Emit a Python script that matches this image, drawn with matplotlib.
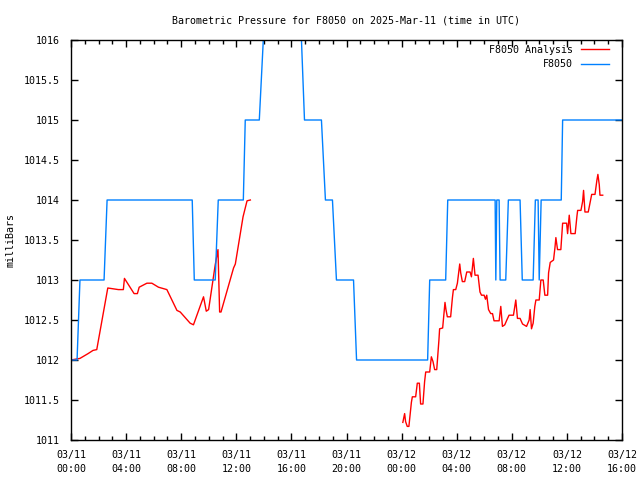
import numpy as np
import pandas as pd
import matplotlib
matplotlib.use("Agg")
import matplotlib.pyplot as plt
import matplotlib.dates as mdates
from matplotlib.ticker import MultipleLocator

start = pd.Timestamp("2025-03-11 00:00")

# F8050 station pressure (hours after 03/11 00:00 UTC, mbar)
obs_hours = [0.0, 0.44, 0.65, 2.40, 2.62, 8.80, 8.95, 10.47, 10.69, 12.51, 12.65,
             13.67, 13.96, 14.25, 16.44, 16.73, 16.95, 18.18, 18.47, 18.98, 19.27,
             20.51, 20.73, 25.89, 26.04, 27.20, 27.35, 30.79, 30.84, 30.91, 31.08,
             31.15, 31.56, 31.75, 32.60, 32.76, 33.55, 33.71, 33.91, 33.99, 34.13,
             35.59, 35.69, 40.0]
obs_mb = [1012, 1012, 1013, 1013, 1014, 1014, 1013, 1013, 1014, 1014, 1015,
          1015, 1016, 1017, 1017, 1016, 1015, 1015, 1014, 1014, 1013,
          1013, 1012, 1012, 1013, 1013, 1014, 1014, 1013, 1014, 1014,
          1013, 1013, 1014, 1014, 1013, 1013, 1014, 1014, 1013, 1014,
          1014, 1015, 1015]

# F8050 analysis, first run
ana1_hours = [0.0, 0.65, 1.24, 1.6, 1.87, 2.67, 3.44, 3.80, 3.88, 4.58, 4.82, 4.95,
              5.51, 5.87, 6.35, 6.96, 7.69, 7.93, 8.65, 8.89, 9.62, 9.82, 9.99,
              10.47, 10.67, 10.79, 10.89, 11.80, 11.93, 12.49, 12.78, 13.02]
ana1_mb = [1012.0, 1012.02, 1012.08, 1012.12, 1012.13, 1012.9, 1012.88, 1012.88,
           1013.02, 1012.83, 1012.83, 1012.91, 1012.96, 1012.96, 1012.91, 1012.88,
           1012.62, 1012.6, 1012.46, 1012.44, 1012.79, 1012.61, 1012.63, 1013.19,
           1013.38, 1012.6, 1012.6, 1013.15, 1013.2, 1013.79, 1013.99, 1014.0]

# F8050 analysis, second run
ana2_hours = [24.09, 24.22, 24.29, 24.41, 24.53, 24.71, 24.78, 25.02, 25.14, 25.29,
              25.38, 25.55, 25.67, 25.75, 26.04, 26.16, 26.28, 26.40, 26.55, 26.71,
              26.76, 26.98, 27.15, 27.22, 27.32, 27.56, 27.69, 27.76, 27.93, 28.05,
              28.22, 28.29, 28.41, 28.58, 28.73, 28.97, 29.07, 29.21, 29.33, 29.55,
              29.69, 29.80, 29.99, 30.09, 30.18, 30.31, 30.47, 30.60, 30.71, 31.08,
              31.20, 31.32, 31.49, 31.64, 31.80, 32.12, 32.29, 32.41, 32.60, 32.78,
              33.07, 33.26, 33.33, 33.43, 33.55, 33.67, 33.75, 33.99, 34.11, 34.28,
              34.40, 34.60, 34.67, 34.79, 35.03, 35.13, 35.20, 35.32, 35.56, 35.69,
              35.98, 36.05, 36.17, 36.29, 36.60, 36.73, 36.78, 37.02, 37.14, 37.21,
              37.31, 37.55, 37.70, 37.80, 38.04, 38.18, 38.25, 38.35, 38.40, 38.60]
ana2_mb = [1011.22, 1011.33, 1011.23, 1011.17, 1011.17, 1011.47, 1011.54, 1011.54,
           1011.71, 1011.71, 1011.45, 1011.45, 1011.73, 1011.85, 1011.85, 1012.04,
           1011.98, 1011.88, 1011.88, 1012.25, 1012.39, 1012.4, 1012.72, 1012.63,
           1012.54, 1012.54, 1012.78, 1012.88, 1012.88, 1012.96, 1013.2, 1013.09,
           1012.98, 1012.98, 1013.1, 1013.1, 1013.04, 1013.27, 1013.06, 1013.06,
           1012.85, 1012.81, 1012.81, 1012.76, 1012.81, 1012.63, 1012.58, 1012.58,
           1012.49, 1012.49, 1012.67, 1012.42, 1012.44, 1012.5, 1012.56, 1012.56,
           1012.75, 1012.52, 1012.52, 1012.45, 1012.42, 1012.5, 1012.63, 1012.39,
           1012.46, 1012.67, 1012.75, 1012.75, 1013.0, 1013.0, 1012.81, 1012.81,
           1013.09, 1013.22, 1013.25, 1013.4, 1013.53, 1013.38, 1013.38, 1013.71,
           1013.71, 1013.58, 1013.81, 1013.58, 1013.58, 1013.8, 1013.87, 1013.87,
           1013.98, 1014.12, 1013.85, 1013.85, 1013.98, 1014.07, 1014.07, 1014.25,
           1014.32, 1014.19, 1014.06, 1014.06]


def to_time(hours):
    return start + pd.to_timedelta(np.asarray(hours, dtype=float), unit="h")


# gap between the two analysis runs
ana_t = list(to_time(ana1_hours)) + [to_time([13.5])[0]] + list(to_time(ana2_hours))
ana_v = ana1_mb + [np.nan] + ana2_mb

plt.rcParams['font.family'] = 'DejaVu Sans Mono'
plt.rcParams['font.size'] = 7.2

fig = plt.figure(figsize=(6.4, 4.8), dpi=100)
ax = fig.add_axes([71 / 640, 1 - 440 / 480, 551 / 640, 400 / 480])

ax.plot(ana_t, ana_v, color='#ff0000', lw=1, label='F8050 Analysis')
ax.plot(to_time(obs_hours), obs_mb, color='#0080ff', lw=1, label='F8050')

ax.set_xlim(start, start + pd.Timedelta(hours=40))
ax.set_ylim(1011, 1016)
ax.yaxis.set_major_locator(MultipleLocator(0.5))
ax.yaxis.set_major_formatter(plt.FuncFormatter(lambda v, p: f"{v:g}"))
ax.xaxis.set_major_locator(mdates.HourLocator(byhour=[0, 4, 8, 12, 16, 20]))
ax.xaxis.set_minor_locator(mdates.HourLocator())
ax.xaxis.set_major_formatter(mdates.DateFormatter("%m/%d\n%H:%M"))
for lbl in ax.get_xticklabels():
    lbl.set_linespacing(1.5)

ax.tick_params(which='both', direction='in', top=True, right=True, width=1)
ax.tick_params(which='major', length=5, pad=7)
ax.tick_params(axis='y', pad=8)
ax.tick_params(which='minor', length=3)
for s in ax.spines.values():
    s.set_linewidth(1)

ax.set_title("Barometric Pressure for F8050 on 2025-Mar-11 (time in UTC)",
             fontsize=7.2, pad=12)
ax.set_ylabel("milliBars", labelpad=6)

ax.legend(loc='upper right', bbox_to_anchor=(1 - 5 / 551, 1 + 3 / 400),
          frameon=False, markerfirst=False, handlelength=2.8,
          borderaxespad=0.4, labelspacing=0.45, handletextpad=0.8)

fig.savefig("out.png", dpi=100)
